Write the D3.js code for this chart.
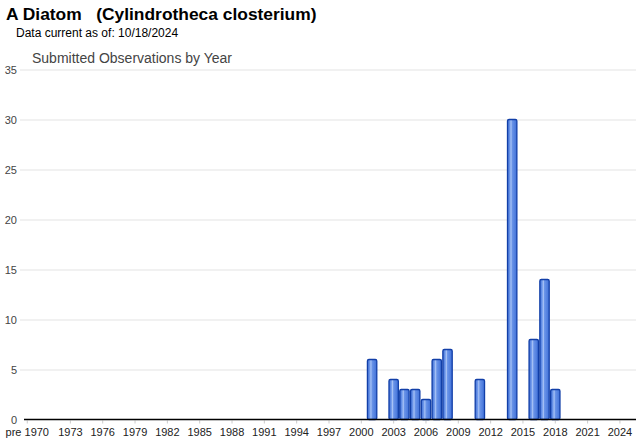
<!DOCTYPE html>
<html><head><meta charset="utf-8">
<script src="https://cdn.jsdelivr.net/npm/d3@7/dist/d3.min.js"></script>
<style>body{margin:0;background:#fff}text{font-family:Arial,"Liberation Sans",sans-serif}</style>
</head><body>
<svg id="c" width="640" height="442"></svg>
<script>
const categories = ["pre 1970"].concat(d3.range(1970, 2026).map(String));
const years = ["2001","2003","2004","2005","2006","2007","2008","2011","2014","2016","2017","2018"];
const counts = [6,4,3,3,2,6,7,4,30,8,14,3];
const tickLabels = ["pre 1970","1973","1976","1979","1982","1985","1988","1991","1994","1997","2000","2003","2006","2009","2012","2015","2018","2021","2024"];
const yTicks = [0,5,10,15,20,25,30,35];

const svg = d3.select("#c");
const data = categories.map(c => { const i = years.indexOf(c); return {cat: c, v: i >= 0 ? counts[i] : 0}; });

const x = d3.scaleBand().domain(categories).range([22, 636]).paddingInner(0.02).paddingOuter(0.0);
const y = d3.scaleLinear().domain([0, 35]).range([419.5, 69.5]);

const defs = svg.append("defs");
const g = defs.append("linearGradient").attr("id","bg").attr("x1","0").attr("x2","1").attr("y1","0").attr("y2","0");
[["0%","#3c6cd3"],["25%","#6f98ea"],["38%","#a8c3f5"],["50%","#6a94e8"],["100%","#3f70d8"]].forEach(s=>g.append("stop").attr("offset",s[0]).attr("stop-color",s[1]));

svg.append("text").attr("x",6).attr("y",20).attr("font-size",17.4).attr("font-weight","bold").attr("fill","#000").style("white-space","pre").text("A Diatom   (Cylindrotheca closterium)");
svg.append("text").attr("x",16).attr("y",37).attr("font-size",12).attr("fill","#000").text("Data current as of: 10/18/2024");
svg.append("text").attr("x",32).attr("y",63).attr("font-size",14).attr("fill","#444").text("Submitted Observations by Year");

// gridlines
svg.append("g").selectAll("line").data(yTicks.filter(d=>d>0)).join("line")
  .attr("x1",20).attr("x2",636).attr("y1",d=>Math.round(y(d))).attr("y2",d=>Math.round(y(d)))
  .attr("stroke","#e3e3e3").attr("stroke-width",1);

// y axis labels
svg.append("g").selectAll("text").data(yTicks).join("text")
  .attr("x",17).attr("y",d=>y(d)+4).attr("text-anchor","end").attr("font-size",11).attr("fill","#444").text(d=>d);

// bars
svg.append("g").selectAll("rect").data(data.filter(d=>d.v>0)).join("rect")
  .attr("x",d=>x(d.cat)+0.6).attr("width",x.bandwidth()-1.2)
  .attr("y",d=>y(d.v)).attr("height",d=>y(0)-y(d.v))
  .attr("rx",1.5)
  .attr("fill","url(#bg)").attr("stroke","#123fa8").attr("stroke-width",1.3);

// x axis
const xAxis = d3.axisBottom(x).tickValues(tickLabels).tickSize(4).tickSizeOuter(0).tickPadding(5);
const ax = svg.append("g").attr("transform","translate(0,419.5)").call(xAxis);
ax.select(".domain").remove();
ax.selectAll(".tick line").attr("stroke","#ccc").attr("y1",1);
ax.selectAll(".tick text").attr("font-size",11).attr("fill","#222").attr("font-family","Arial, 'Liberation Sans', sans-serif");
svg.append("line").attr("x1",24).attr("x2",636).attr("y1",419.5).attr("y2",419.5).attr("stroke","#000").attr("stroke-width",1.3);
</script>
</body></html>
